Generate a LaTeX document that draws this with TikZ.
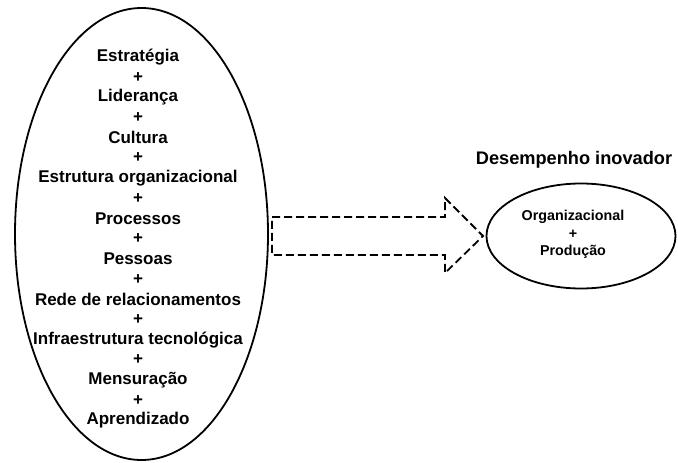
\documentclass[tikz,border=0pt]{standalone}
\usepackage{fontspec}
\setmainfont{Liberation Sans}
\begin{document}
\begin{tikzpicture}[x=1pt,y=-1pt,
  outline/.style={draw=black, line width=1.8pt},
  bigtxt/.style={font=\fontsize{17}{19}\selectfont\bfseries, inner sep=0pt, anchor=center},
  smalltxt/.style={font=\fontsize{14.3}{16}\selectfont\bfseries, inner sep=0pt},
  titletxt/.style={font=\fontsize{18.2}{20}\selectfont\bfseries, inner sep=0pt},
  blockarrow/.style={draw=black, line width=1.8pt, dash pattern=on 8pt off 4pt}]
\useasboundingbox (0,0) rectangle (678,463);
% big ellipse
\draw[outline] (141.5,234) ellipse [x radius=126.5, y radius=226];
% lines of text
\foreach \t [count=\i from 0] in {Estratégia,+,Liderança,+,Cultura,+,Estrutura organizacional,+,Processos,+,Pessoas,+,Rede de relacionamentos,+,Infraestrutura tecnológica,+,Mensuração,+,Aprendizado}
  \node[bigtxt] (l\i) at (138,{57+20.2*\i}) {\t};
% block arrow
\coordinate (a1) at (272,217);
\coordinate (a2) at (445,217);
\coordinate (a3) at (445,198);
\coordinate (a4) at (483,236);
\coordinate (a5) at (445,273);
\coordinate (a6) at (445,255);
\coordinate (a7) at (272,255);
\draw[blockarrow] (a1) -- (a2) -- (a3) -- (a4) -- (a5) -- (a6) -- (a7) -- cycle;
% small ellipse
\draw[outline] (581,236) ellipse [x radius=94.5, y radius=52.5];
\node[smalltxt] (o1) at (573,217) {Organizacional};
\node[smalltxt] (o2) at (573,234) {+};
\node[smalltxt] (o3) at (573,252) {Produção};
\node[titletxt] (title) at (574,160) {Desempenho inovador};
\end{tikzpicture}
\end{document}
